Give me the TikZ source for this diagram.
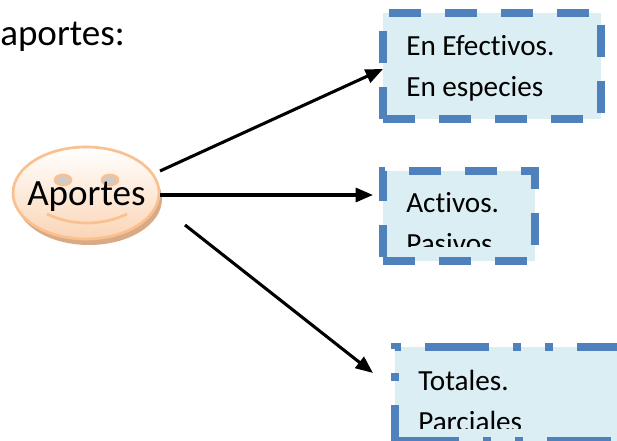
\documentclass[tikz,border=0pt]{standalone}
\usepackage{fontspec}
\setmainfont[Ligatures=CommonOff]{Carlito}
\usetikzlibrary{arrows.meta,shapes.geometric}
\definecolor{boxfill}{HTML}{DAEEF3}
\definecolor{boxline}{HTML}{4F81BD}
\definecolor{faceline}{HTML}{FAC090}
\definecolor{facefill}{HTML}{FBD5B5}
\definecolor{faceshadow}{HTML}{D9AB85}
\tikzset{
  x=0.75pt,y=-0.75pt,
  panel/.style={fill=boxfill,draw=none,inner sep=0pt,outer sep=0pt},
  panelline/.style={draw=boxline,line width=6pt,line join=miter},
  panellabel/.style={anchor=base west,inner sep=0pt,font=\fontsize{21.9}{26}\selectfont},
  big/.style={anchor=base west,inner sep=0pt,font=\fontsize{27.8}{33}\selectfont},
  connector/.style={draw=black,line width=2.3pt,-{Triangle[length=13pt,width=10.5pt]}},
  eye/.style={ellipse,draw=faceline,line width=2pt,fill=black!20,inner sep=0pt,minimum width=12pt,minimum height=7.5pt},
}
\begin{document}
\begin{tikzpicture}
\useasboundingbox (0,0) rectangle (617,441);
\clip (0,0) rectangle (617,441);
\fill[white] (0,0) rectangle (617,441);

\node[big] (title) at (0,46) {aportes:};

% boxes
\node[panel,minimum width=163.5pt,minimum height=79.5pt] (b1) at (492,66) {};
\draw[panelline,dash pattern=on 24pt off 18pt]
  (b1.south west) -- (b1.north west) -- (b1.north east) -- (b1.south east) -- cycle;
\node[panellabel] (t1a) at (406,56) {En Efectivos.};
\node[panellabel] (t1b) at (406,97) {En especies};

\node[panel,minimum width=114pt,minimum height=67.5pt] (b2) at (459,216) {};
\begin{scope}
\clip (383,175) rectangle (535,247);
\node[panellabel] (t2a) at (406,213) {Activos.};
\node[panellabel] (t2b) at (406,254) {Pasivos};
\end{scope}
\draw[panelline,dash pattern=on 24pt off 18pt,dash phase=39pt]
  (b2.south west) -- (b2.north west) -- (b2.north east) -- (b2.south east) -- cycle;

\node[panel,minimum width=171pt,minimum height=70.5pt] (b3) at (509,394) {};
\begin{scope}
\clip (395,351) rectangle (617,428);
\node[panellabel] (t3a) at (418,390) {Totales.};
\node[panellabel] (t3b) at (418,431) {Parciales};
\end{scope}
\draw[panelline,dash pattern=on 48pt off 18pt on 6pt off 18pt on 6pt off 18pt,dash phase=21pt]
  (b3.south west) -- (b3.north west) -- (b3.north east) -- (b3.south east) -- cycle;

% face
\fill[faceshadow] (89,199) ellipse (73 and 46);
\node[ellipse,draw=faceline,line width=2pt,top color=white,bottom color=facefill,
  minimum width=109.5pt,minimum height=69pt,inner sep=0pt,outer sep=0pt] (face) at (86,193) {};
\node[eye] (eyeL) at (63,180) {};
\node[eye] (eyeR) at (110,180) {};
\coordinate (smileL) at (47,214);
\coordinate (smileR) at (127,214);
\draw[faceline,line width=2pt] (smileL) .. controls (72,226) and (102,226) .. (smileR);
\node[big] (facetext) at (27,206) {Aportes};

% connectors
\coordinate (a1) at (383,69);
\coordinate (a2) at (373,195);
\coordinate (a3) at (373,373);
\coordinate (s1) at (160,171);
\coordinate (s2) at (160,195);
\coordinate (s3) at (185,225);
\draw[connector] (s1) -- (a1);
\draw[connector] (s2) -- (a2);
\draw[connector] (s3) -- (a3);
\end{tikzpicture}
\end{document}
